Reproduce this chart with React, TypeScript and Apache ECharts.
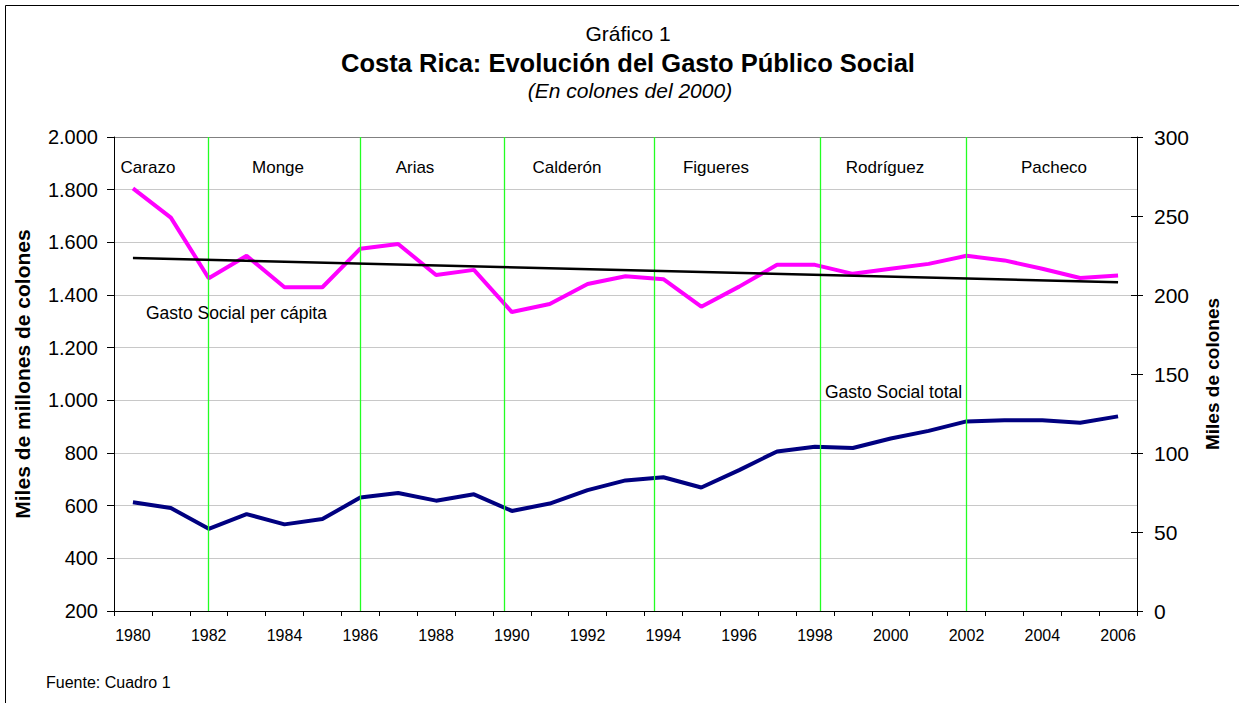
import React, { useEffect, useRef } from "react";
import * as echarts from "echarts";

// ---- data ----
const years = [
  "1980", "1981", "1982", "1983", "1984", "1985", "1986", "1987", "1988",
  "1989", "1990", "1991", "1992", "1993", "1994", "1995", "1996", "1997",
  "1998", "1999", "2000", "2001", "2002", "2003", "2004", "2005", "2006",
];

// Gasto Social total (miles de millones de colones del 2000) - left axis
const gastoTotal = [
  613, 591, 512, 568, 529, 549, 631, 648, 619, 643, 580, 608, 659, 696,
  708, 669, 735, 806, 824, 819, 855, 884, 920, 924, 924, 915, 939,
];

// Gasto Social per cápita (miles de colones del 2000) - right axis
const gastoPerCapita = [
  267.5, 249, 210.6, 224.8, 204.9, 204.9, 229.3, 232.3, 212.7, 215.9, 189.2,
  194.3, 207, 211.9, 210, 192.6, 205.3, 219.1, 219.1, 213.4, 216.6, 219.7,
  224.8, 221.9, 216.6, 210.8, 212.3,
];

// Linear trend of per cápita spending (endpoints)
const trendYears = ["1980", "2006"];
const trendValues = [223.4, 208.1];

// Presidential terms
const presidents = ["Carazo", "Monge", "Arias", "Calderón", "Figueres", "Rodríguez", "Pacheco"];
const termBoundaries = [1982, 1986, 1989.8, 1993.75, 1998.15, 2002];

const leftTicks = [200, 2000, 200]; // min, max, interval
const rightTicks = [0, 300, 50];

const FONT = '"Liberation Sans", Arial, Helvetica, sans-serif';

const fmtThousands = (v: number) =>
  String(v).replace(/\B(?=(\d{3})+(?!\d))/g, ".");

export default function App() {
  const ref = useRef<HTMLDivElement>(null);

  useEffect(() => {
    if (!ref.current) return;
    const chart = echarts.init(ref.current, null, { renderer: "svg" });

    const presidentX = [148, 278, 415, 567, 716, 885, 1054];

    const txt = (
      text: string,
      x: number,
      y: number,
      size: number,
      align: string,
      extra: any = {}
    ) => ({
      type: "text",
      x,
      y,
      silent: true,
      z: 50,
      style: {
        text,
        fontSize: size,
        fontFamily: FONT,
        fill: "#000",
        align,
        verticalAlign: "middle",
        textAlign: align,
        textVerticalAlign: "middle",
        ...extra,
      },
    });

    const splitColors = [
      "#c8c8c8", "#c8c8c8", "#c8c8c8", "#c8c8c8", "#c8c8c8",
      "#c8c8c8", "#c8c8c8", "#c8c8c8", "#c8c8c8", "#808080",
    ];

    chart.setOption({
      animation: false,
      backgroundColor: "#ffffff",
      textStyle: { fontFamily: FONT },
      grid: {
        left: 114,
        right: 102,
        top: 137,
        bottom: 92,
        containLabel: false,
        outerBoundsMode: "none",
      },
      xAxis: [
        {
          type: "category",
          data: years,
          boundaryGap: true,
          axisLine: { show: true, lineStyle: { color: "#000", width: 1 } },
          axisTick: { show: true, interval: 0, length: 5, lineStyle: { color: "#000" } },
          axisLabel: {
            interval: 1,
            color: "#000",
            fontSize: 16,
            fontFamily: FONT,
            margin: 16,
          },
          splitLine: { show: false },
        },
        {
          type: "value",
          min: 1979.5,
          max: 2006.5,
          show: false,
          position: "top",
          splitLine: { show: false },
        },
      ],
      yAxis: [
        {
          type: "value",
          min: leftTicks[0],
          max: leftTicks[1],
          interval: leftTicks[2],
          position: "left",
          name: "Miles de millones de colones",
          nameLocation: "middle",
          nameGap: 81,
          nameTextStyle: {
            fontSize: 21,
            fontWeight: "bold",
            color: "#000",
            fontFamily: FONT,
          },
          axisLine: { show: true, lineStyle: { color: "#000", width: 1 } },
          axisTick: { show: true, length: 7, lineStyle: { color: "#000" } },
          axisLabel: {
            formatter: fmtThousands,
            fontSize: 20,
            color: "#000",
            fontFamily: FONT,
            margin: 16,
          },
          splitLine: { show: true, lineStyle: { color: splitColors, width: 1 } },
        },
        {
          type: "value",
          min: rightTicks[0],
          max: rightTicks[1],
          interval: rightTicks[2],
          position: "right",
          name: "Miles de colones",
          nameLocation: "middle",
          nameGap: 66,
          nameTextStyle: {
            fontSize: 19,
            fontWeight: "bold",
            color: "#000",
            fontFamily: FONT,
          },
          axisLine: { show: true, lineStyle: { color: "#000", width: 1 } },
          axisTick: { show: true, length: 6, lineStyle: { color: "#000" } },
          axisLabel: {
            fontSize: 21,
            color: "#000",
            fontFamily: FONT,
            margin: 17,
          },
          splitLine: { show: false },
        },
        {
          type: "value",
          min: rightTicks[0],
          max: rightTicks[1],
          interval: rightTicks[2],
          position: "right",
          axisLine: { show: false },
          axisTick: { show: true, inside: true, length: 6, lineStyle: { color: "#000" } },
          axisLabel: { show: false },
          splitLine: { show: false },
        },
      ],
      series: [
        {
          name: "Periodos",
          type: "line",
          xAxisIndex: 1,
          yAxisIndex: 0,
          data: [],
          silent: true,
          z: 1,
          markLine: {
            silent: true,
            symbol: ["none", "none"],
            label: { show: false },
            lineStyle: { color: "#22ff22", width: 1.3, type: "solid" },
            emphasis: { disabled: true },
            data: termBoundaries.map((v) => ({ xAxis: v })),
          },
        },
        {
          name: "Gasto Social per cápita",
          type: "line",
          yAxisIndex: 1,
          data: gastoPerCapita,
          symbol: "none",
          z: 3,
          lineStyle: { color: "#ff00ff", width: 4 },
        },
        {
          name: "Gasto Social total",
          type: "line",
          yAxisIndex: 0,
          data: gastoTotal,
          symbol: "none",
          z: 4,
          lineStyle: { color: "#000080", width: 4 },
        },
        {
          name: "Tendencia",
          type: "line",
          yAxisIndex: 1,
          data: trendYears.map((y, i) => [y, trendValues[i]]),
          symbol: "none",
          z: 5,
          lineStyle: { color: "#000000", width: 2.5 },
        },
      ],
      graphic: [
        {
          type: "rect",
          silent: true,
          z: 100,
          shape: { x: 5.5, y: 5.5, width: 1500, height: 1000 },
          style: { fill: "none", stroke: "#000", lineWidth: 1 },
        },
        txt("Gráfico 1", 628, 33, 21, "center"),
        txt("Costa Rica: Evolución del Gasto Público Social", 628, 63, 25.5, "center", {
          fontWeight: "bold",
        }),
        txt("(En colones del 2000)", 630, 90, 21, "center", { fontStyle: "italic" }),
        ...presidents.map((p, i) => txt(p, presidentX[i], 167, 17, "center")),
        txt("Gasto Social per cápita", 146, 313, 17.5, "left"),
        txt("Gasto Social total", 825, 392, 17.5, "left"),
        txt("Fuente: Cuadro 1", 46, 682, 16, "left"),
      ],
    });

    return () => chart.dispose();
  }, []);

  return (
    <div
      ref={ref}
      style={{
        position: "fixed",
        left: 0,
        top: 0,
        width: 1239,
        height: 703,
        overflow: "hidden",
        background: "#fff",
      }}
    />
  );
}
